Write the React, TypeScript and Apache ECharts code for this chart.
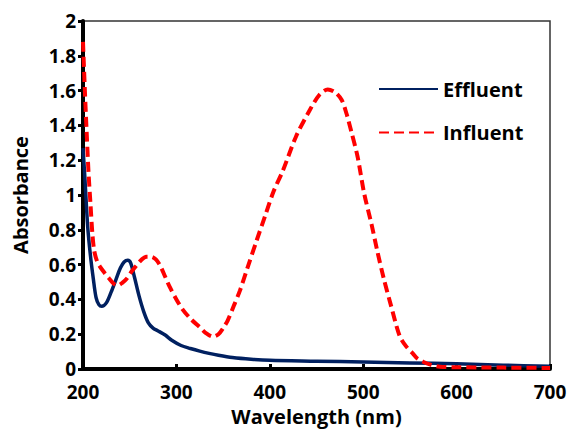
import React, { useEffect, useRef } from "react";
import * as echarts from "echarts";

const xTicks = [200, 300, 400, 500, 600, 700];

const effluentX = [200, 202, 205, 208, 211, 214, 217, 220, 225, 230, 235, 240, 244, 248, 251, 255, 260, 265, 270, 275, 280, 288, 295, 305, 315, 325, 335, 345, 360, 380, 400, 450, 500, 550, 600, 650, 700];
const effluentY = [1.27, 1.1, 0.82, 0.65, 0.52, 0.41, 0.37, 0.36, 0.38, 0.44, 0.51, 0.58, 0.615, 0.625, 0.61, 0.53, 0.42, 0.33, 0.265, 0.235, 0.22, 0.195, 0.165, 0.135, 0.118, 0.103, 0.09, 0.079, 0.066, 0.056, 0.05, 0.045, 0.04, 0.035, 0.03, 0.022, 0.016];

const influentX = [200, 202, 204, 206, 208, 210, 212, 215, 218, 222, 228, 233, 237, 242, 247, 252, 258, 263, 268, 273, 278, 283, 288, 293, 300, 307, 315, 325, 332, 339, 345, 350, 355, 362, 368, 376, 386, 395, 404, 414, 428, 443, 453, 462, 470, 477, 482, 487, 494, 501, 509, 515, 522, 530, 539, 546, 553, 558, 564, 572, 582, 600, 650, 700];
const influentY = [1.88, 1.6, 1.35, 1.12, 0.95, 0.78, 0.68, 0.62, 0.59, 0.56, 0.52, 0.49, 0.48, 0.495, 0.52, 0.56, 0.6, 0.63, 0.645, 0.645, 0.63, 0.59, 0.53, 0.47, 0.4, 0.34, 0.29, 0.24, 0.205, 0.186, 0.2, 0.235, 0.28, 0.37, 0.45, 0.58, 0.74, 0.88, 1.02, 1.14, 1.335, 1.49, 1.575, 1.607, 1.59, 1.546, 1.47, 1.37, 1.22, 1.01, 0.83, 0.68, 0.52, 0.36, 0.19, 0.13, 0.09, 0.06, 0.042, 0.025, 0.013, 0.01, 0.008, 0.006];

const FONT = "'Open Sans', Lato, sans-serif";
const txt = { fontFamily: FONT, fontWeight: "bold", fontSize: 20, color: "#000" };

export default function App() {
  const ref = useRef<HTMLDivElement>(null);
  useEffect(() => {
    if (!ref.current) return;
    const chart = echarts.init(ref.current, undefined, { renderer: "svg" });
    chart.setOption({
      animation: false,
      backgroundColor: "#fff",
      grid: {
        left: 83,
        right: 19,
        top: 21,
        bottom: 62,
        containLabel: false,
        outerBoundsMode: "none",
        show: true,
        borderColor: "#333",
        borderWidth: 1.5,
      },
      legend: {
        orient: "vertical",
        left: 378,
        top: 79,
        padding: 0,
        itemWidth: 59,
        itemHeight: 20,
        itemGap: 23.5,
        itemStyle: { opacity: 0 },
        textStyle: { ...txt, lineHeight: 20 },
        data: ["Effluent", "Influent"],
      },
      xAxis: {
        type: "value",
        min: xTicks[0],
        max: xTicks[xTicks.length - 1],
        interval: 100,
        name: "Wavelength (nm)",
        nameLocation: "middle",
        nameGap: 33,
        nameTextStyle: txt,
        axisLine: { lineStyle: { color: "#000", width: 4 } },
        axisTick: { inside: true, length: 5, lineStyle: { color: "#000", width: 3 } },
        axisLabel: { ...txt, fontSize: 19, lineHeight: 16, margin: 15 },
        splitLine: { show: false },
      },
      yAxis: {
        type: "value",
        min: 0,
        max: 2,
        interval: 0.2,
        name: "Absorbance",
        nameLocation: "middle",
        nameGap: 53,
        nameTextStyle: txt,
        axisLine: { lineStyle: { color: "#000", width: 4 } },
        axisTick: { inside: false, length: 5, lineStyle: { color: "#000", width: 3 } },
        axisLabel: { ...txt, fontSize: 19, lineHeight: 16, margin: 7 },
        splitLine: { show: false },
      },
      series: [
        {
          name: "Effluent",
          type: "line",
          data: effluentX.map((x, i) => [x, effluentY[i]]),
          smooth: 0.3,
          symbol: "none",
          lineStyle: { color: "#002060", width: 3.5 },
          itemStyle: { color: "#002060" },
          z: 3,
        },
        {
          name: "Influent",
          type: "line",
          data: influentX.map((x, i) => [x, influentY[i]]),
          smooth: 0.3,
          symbol: "none",
          lineStyle: { color: "#FF0000", width: 4, type: [10, 5] },
          itemStyle: { color: "#FF0000" },
          z: 4,
        },
      ],
    });
    return () => chart.dispose();
  }, []);
  return <div ref={ref} style={{ position: "fixed", left: 0, top: 0, width: 569, height: 431 }} />;
}
